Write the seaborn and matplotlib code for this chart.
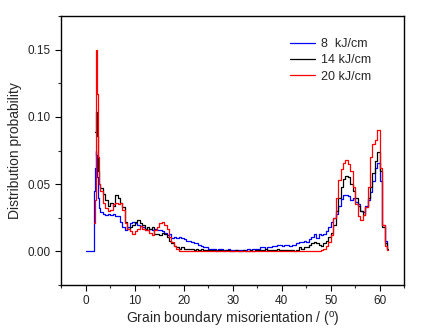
import numpy as np
import pandas as pd
import matplotlib
matplotlib.use("Agg")
import matplotlib.pyplot as plt
import seaborn as sns
from matplotlib.ticker import MultipleLocator

# Misorientation angle (deg), left edge of each histogram step
angle = [0.0, 1.6, 1.8, 2.0, 2.2, 2.4, 2.6, 2.8,
         3.0, 3.5, 4.0, 4.5, 5.0, 5.5, 6.0, 6.5, 7.0, 7.5,
         8.0, 8.5, 9.0, 9.5, 10.0, 10.5, 11.0, 11.5, 12.0, 12.5,
         13.0, 13.5, 14.0, 14.5, 15.0, 15.5, 16.0, 16.5, 17.0, 17.5,
         18.0, 18.5, 19.0, 19.5, 20.0, 20.5, 21.0, 21.5, 22.0, 22.5,
         23.0, 23.5, 24.0, 24.5, 25.0, 25.5, 26.0, 26.5, 27.0, 27.5,
         28.0, 28.5, 29.0, 29.5, 30.0, 30.5, 31.0, 31.5, 32.0, 32.5,
         33.0, 33.5, 34.0, 34.5, 35.0, 35.5, 36.0, 36.5, 37.0, 37.5,
         38.0, 38.5, 39.0, 39.5, 40.0, 40.5, 41.0, 41.5, 42.0, 42.5,
         43.0, 43.5, 44.0, 44.5, 45.0, 45.5, 46.0, 46.5, 47.0, 47.5,
         48.0, 48.5, 49.0, 49.5, 50.0, 50.5, 51.0, 51.5, 52.0, 52.5,
         53.0, 53.5, 54.0, 54.5, 55.0, 55.5, 56.0, 56.5, 57.0, 57.5,
         58.0, 58.5, 59.0, 59.5, 60.0, 60.5, 61.0, 61.5, 61.75]

# Distribution probability for each heat input
p_8 = [0.0, 0.045, 0.062, 0.075, 0.072, 0.055, 0.040, 0.032,
       0.029, 0.028, 0.027, 0.028, 0.027, 0.028, 0.026, 0.026, 0.022, 0.018,
       0.016, 0.018, 0.021, 0.022, 0.021, 0.020, 0.019, 0.018, 0.016, 0.016,
       0.017, 0.016, 0.017, 0.016, 0.016, 0.015, 0.014, 0.012, 0.013, 0.010,
       0.011, 0.010, 0.011, 0.010, 0.009, 0.008, 0.008, 0.007, 0.006, 0.006,
       0.005, 0.004, 0.003, 0.003, 0.002, 0.002, 0.002, 0.001, 0.002, 0.002,
       0.001, 0.001, 0.002, 0.001, 0.001, 0.001, 0.001, 0.001, 0.001, 0.001,
       0.002, 0.001, 0.002, 0.002, 0.002, 0.003, 0.003, 0.002, 0.003, 0.003,
       0.004, 0.004, 0.005, 0.005, 0.004, 0.005, 0.005, 0.004, 0.005, 0.005,
       0.006, 0.007, 0.007, 0.008, 0.007, 0.009, 0.011, 0.013, 0.010, 0.013,
       0.012, 0.013, 0.015, 0.018, 0.022, 0.025, 0.028, 0.034, 0.039, 0.042,
       0.042, 0.041, 0.038, 0.040, 0.037, 0.035, 0.030, 0.029, 0.034, 0.038,
       0.044, 0.052, 0.062, 0.066, 0.052, 0.020, 0.008, 0.002, 0.002]

p_14 = [None, None, 0.089, 0.089, 0.104, 0.086, 0.060, 0.050,
        0.047, 0.043, 0.038, 0.034, 0.036, 0.034, 0.042, 0.040, 0.036, 0.033,
        0.022, 0.017, 0.018, 0.020, 0.022, 0.023, 0.021, 0.020, 0.017, 0.018,
        0.017, 0.018, 0.013, 0.013, 0.012, 0.014, 0.013, 0.011, 0.008, 0.006,
        0.004, 0.003, 0.002, 0.003, 0.002, 0.002, 0.002, 0.002, 0.001, 0.002,
        0.001, 0.002, 0.001, 0.001, 0.001, 0.001, 0.001, 0.0005, 0.001, 0.001,
        0.0005, 0.001, 0.001, 0.0005, 0.0005, 0.001, 0.0005, 0.0005, 0.001, 0.0005,
        0.0005, 0.001, 0.0005, 0.001, 0.001, 0.001, 0.001, 0.0015, 0.001, 0.001,
        0.001, 0.001, 0.0015, 0.001, 0.001, 0.001, 0.001, 0.001, 0.001, 0.0005,
        0.001, 0.003, 0.002, 0.003, 0.003, 0.005, 0.006, 0.007, 0.006, 0.005,
        0.004, 0.006, 0.008, 0.011, 0.014, 0.020, 0.030, 0.040, 0.048, 0.054,
        0.056, 0.055, 0.050, 0.045, 0.040, 0.034, 0.030, 0.027, 0.033, 0.040,
        0.048, 0.058, 0.067, 0.074, 0.060, 0.018, 0.006, 0.002, 0.002]

p_20 = [None, 0.021, 0.038, 0.145, 0.150, 0.117, 0.070, 0.050,
        0.045, 0.036, 0.032, 0.030, 0.031, 0.035, 0.036, 0.035, 0.036, 0.031,
        0.021, 0.017, 0.015, 0.013, 0.015, 0.017, 0.019, 0.017, 0.016, 0.016,
        0.014, 0.012, 0.016, 0.018, 0.021, 0.022, 0.020, 0.017, 0.011, 0.007,
        0.004, 0.002, 0.0005, 0.0004, 0.0004, 0.0004, 0.0004, 0.0004, 0.0004, 0.0004,
        0.0004, 0.0004, 0.0004, 0.0004, 0.0004, 0.0004, 0.0004, 0.0004, 0.0004, 0.0004,
        0.0004, 0.0004, 0.0004, 0.0004, 0.0004, 0.0004, 0.0004, 0.0004, 0.0004, 0.0004,
        0.0004, 0.0004, 0.0004, 0.0004, 0.0004, 0.0004, 0.0004, 0.0004, 0.0004, 0.0004,
        0.0004, 0.0004, 0.0004, 0.0004, 0.0004, 0.0004, 0.0004, 0.0004, 0.0004, 0.0004,
        0.0004, 0.0004, 0.0004, 0.0004, 0.0004, 0.0004, 0.0004, 0.0004, 0.0004, 0.0005,
        0.001, 0.002, 0.004, 0.007, 0.012, 0.025, 0.040, 0.053, 0.061, 0.066,
        0.068, 0.065, 0.060, 0.048, 0.035, 0.026, 0.023, 0.027, 0.033, 0.048,
        0.070, 0.080, 0.083, 0.090, 0.062, 0.020, 0.004, 0.001, 0.001]

labels = ["8  kJ/cm", "14 kJ/cm", "20 kJ/cm"]
colors = ["#0000FF", "#000000", "#FF0000"]

frames = []
for lab, vals in zip(labels, [p_8, p_14, p_20]):
    frames.append(pd.DataFrame({"angle": angle, "prob": vals, "heat": lab}))
df = pd.concat(frames, ignore_index=True).dropna()
df["prob"] = df["prob"].astype(float)

sns.set_style("ticks")
plt.rcParams["font.family"] = ["Liberation Sans", "DejaVu Sans"]
plt.rcParams["mathtext.fontset"] = "custom"
plt.rcParams["mathtext.rm"] = "Liberation Sans"

fig = plt.figure(figsize=(4.31, 3.33), dpi=100)
ax = fig.add_axes([0.142, 0.144, 0.796, 0.808])

sns.lineplot(data=df, x="angle", y="prob", hue="heat", hue_order=labels,
             palette=colors, drawstyle="steps-post", linewidth=0.9,
             estimator=None, ax=ax, legend=False)

ax.set_xlim(-5, 65)
ax.set_ylim(-0.025, 0.175)
ax.xaxis.set_major_locator(MultipleLocator(10))
ax.xaxis.set_minor_locator(MultipleLocator(5))
ax.yaxis.set_major_locator(MultipleLocator(0.05))
ax.yaxis.set_minor_locator(MultipleLocator(0.025))
ax.set_yticks([0.0, 0.05, 0.10, 0.15])
ax.set_yticklabels(["0.00", "0.05", "0.10", "0.15"])

for s in ax.spines.values():
    s.set_linewidth(1.0)
    s.set_color("black")
ax.tick_params(which="major", direction="out", length=4, width=0.8,
               labelsize=8.5, colors="black", labelcolor="#222222")
ax.tick_params(which="minor", direction="out", length=2.5, width=0.8)

ax.set_xlabel("Grain boundary misorientation / ($^\\mathrm{o}$)", fontsize=10, labelpad=2)
ax.set_ylabel("Distribution probability", fontsize=10, labelpad=4)

handles = [plt.Line2D([], [], color=c, linewidth=0.9) for c in colors]
ax.legend(handles, labels, loc="upper left", bbox_to_anchor=(0.667, 0.918),
          frameon=False, fontsize=9, handlelength=2.0, handletextpad=0.5,
          labelspacing=0.35, borderpad=0, borderaxespad=0)

fig.savefig("out.png", dpi=100)
